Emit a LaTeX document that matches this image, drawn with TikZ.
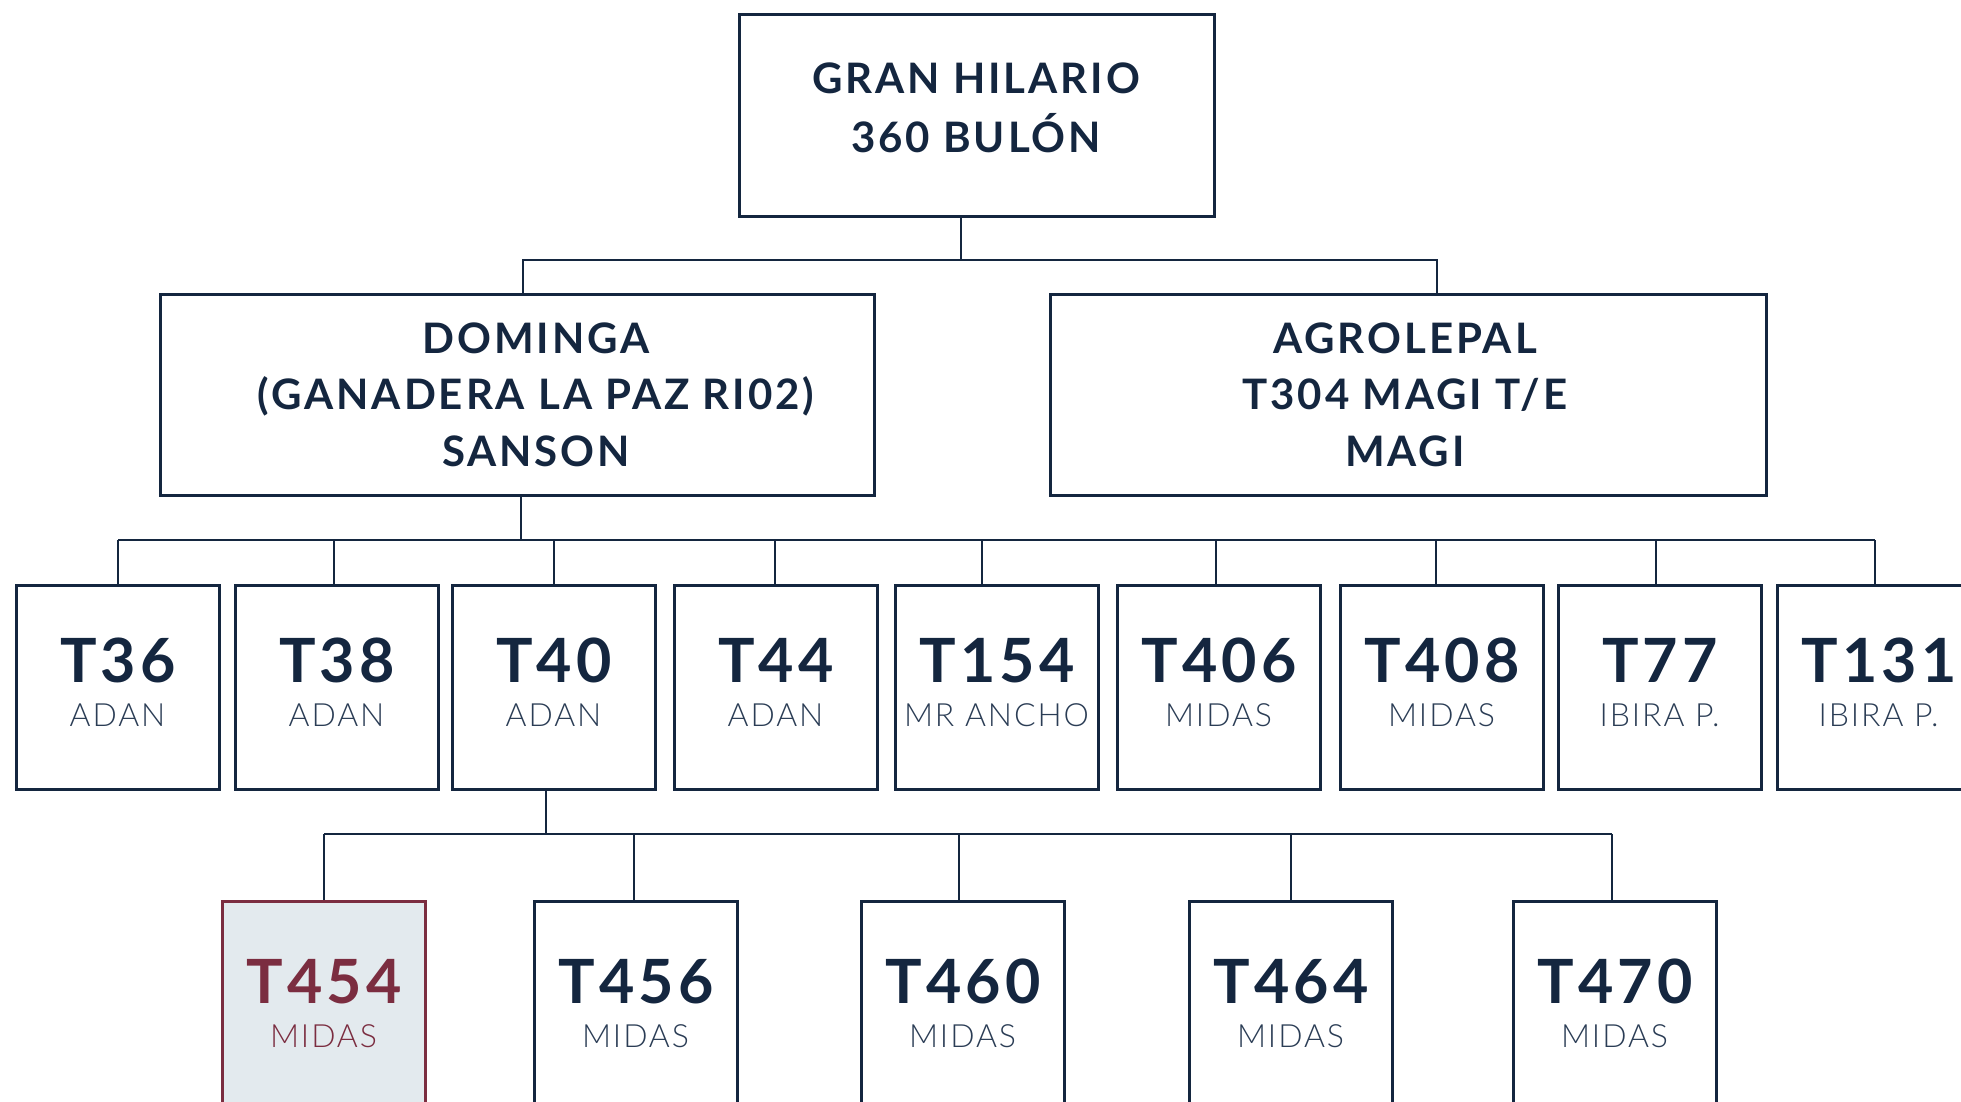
\documentclass[tikz,border=0pt]{standalone}
\usepackage{fontspec}
\setmainfont{Lato}[LetterSpace=7]
\IfFontExistsTF{Lato Light}{\newfontfamily\lightfont{Lato Light}[LetterSpace=6]}{\newfontfamily\lightfont{Lato}[LetterSpace=6]}
\definecolor{navy}{HTML}{14263F}
\definecolor{subnavy}{HTML}{2B3D55}
\definecolor{maroon}{HTML}{7B2D40}
\definecolor{hilite}{HTML}{E3EAEE}
\begin{document}
\begin{tikzpicture}[x=1pt,y=-1pt,
  conn/.style={draw=navy, line width=2.6pt},
  bigbox/.style={draw=navy, line width=2.6pt, fill=white, inner sep=0pt, anchor=north west},
  cbox/.style={draw=navy, line width=2.6pt, fill=white, inner sep=0pt, anchor=north west,
     minimum width=203pt, minimum height=204pt},
  hbox/.style={cbox, draw=maroon, fill=hilite},
  headtxt/.style={text=navy, font=\fontsize{42}{42}\selectfont\bfseries, anchor=base, inner sep=0pt},
  bigtxt/.style={text=navy, font=\fontsize{61}{61}\selectfont\bfseries, anchor=base, inner sep=0pt},
  subtxt/.style={text=subnavy, font=\lightfont\fontsize{32}{32}\selectfont, anchor=base, inner sep=0pt}
]
\useasboundingbox (0,0) rectangle (1961,1101);
\clip (0,0) rectangle (1961,1101);

% top
\node[bigbox, minimum width=475pt, minimum height=202pt] (top) at (738,13) {};
\node[headtxt] (topa) at (976,93) {GRAN HILARIO};
\node[headtxt] (topb) at (976,152) {360 BULÓN};

% level 1
\node[bigbox, minimum width=714pt, minimum height=201pt] (dom) at (159,293) {};
\node[headtxt] (doma) at (536,353) {DOMINGA};
\node[headtxt] (domb) at (536,409) {(GANADERA LA PAZ RI02)};
\node[headtxt] (domc) at (536,466) {SANSON};

\node[bigbox, minimum width=716pt, minimum height=201pt] (agr) at (1049,293) {};
\node[headtxt] (agra) at (1405,353) {AGROLEPAL};
\node[headtxt] (agrb) at (1405,409) {T304 MAGI T/E};
\node[headtxt] (agrc) at (1405,466) {MAGI};

\coordinate (a0) at (961,260);
\coordinate (a1) at (523,260);
\coordinate (a2) at (1437,260);
\draw[conn] (a0 |- top.south) -- (a0);
\draw[conn] (a1 |- dom.north) -- (a1) -- (a2) -- (a2 |- agr.north);

% level 2
\foreach \nm/\xl/\labA/\labB in {t36/15/T36/ADAN, t38/234/T38/ADAN, t40/451/T40/ADAN,
   t44/673/T44/ADAN, t154/894/T154/MR ANCHO, t406/1116/T406/MIDAS, t408/1339/T408/MIDAS,
   t77/1557/T77/IBIRA P., t131/1776/T131/IBIRA P.}{
  \node[cbox] (\nm) at (\xl,584) {};
  \node[bigtxt] (\nm a) at (\xl+103,682) {\labA};
  \node[subtxt] (\nm b) at (\xl+102.5,726) {\labB};
}
\coordinate (b0) at (521,540);
\draw[conn] (b0 |- dom.south) -- (b0);
\foreach \nm/\xc in {t36/118, t38/334, t40/554, t44/775, t154/982, t406/1216, t408/1436, t77/1656, t131/1875}{
  \coordinate (j\nm) at (\xc,540);
  \draw[conn] (j\nm) -- (j\nm |- \nm.north);
}
\draw[conn] (jt36) -- (jt131);

% level 3
\node[hbox] (t454) at (221,900) {};
\node[bigtxt, text=maroon] (t454a) at (324,1003) {T454};
\node[subtxt, text=maroon] (t454b) at (323.5,1047) {MIDAS};
\foreach \nm/\xl/\labA in {t456/533/T456, t460/860/T460, t464/1188/T464, t470/1512/T470}{
  \node[cbox] (\nm) at (\xl,900) {};
  \node[bigtxt] (\nm a) at (\xl+103,1003) {\labA};
  \node[subtxt] (\nm b) at (\xl+102.5,1047) {MIDAS};
}
\coordinate (c0) at (546,834);
\draw[conn] (c0 |- t40.south) -- (c0);
\foreach \nm/\xc in {t454/324, t456/634, t460/959, t464/1291, t470/1612}{
  \coordinate (k\nm) at (\xc,834);
  \draw[conn] (k\nm) -- (k\nm |- \nm.north);
}
\draw[conn] (kt454) -- (kt470);
\end{tikzpicture}
\end{document}
